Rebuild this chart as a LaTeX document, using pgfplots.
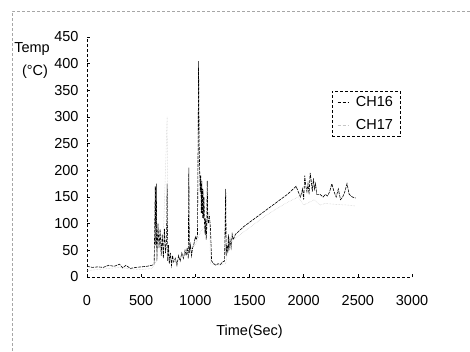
\documentclass[border=0pt]{standalone}
\usepackage{pgfplots}
\pgfplotsset{compat=1.18}
\usepackage{fontspec}
\setmainfont{Liberation Sans}
\begin{document}
\begin{tikzpicture}
\begin{axis}[
  at={(0pt,0pt)}, anchor=south west,
  scale only axis, width=325pt, height=240pt,
  xmin=0, xmax=3000, ymin=0, ymax=450,
  axis x line*=bottom, axis y line*=left,
  axis line style={black, line width=0.5pt, densely dashed},
  xtick={0,500,...,3000}, ytick={0,50,...,450},
  tick align=inside, major tick length=3pt,
  tick style={black, line width=0.4pt, solid},
  /pgf/number format/assume math mode=true,
  /pgf/number format/1000 sep={},
  tick label style={font=\fontsize{14.5}{16}\selectfont},
  xticklabel style={yshift=-15pt},
  yticklabel style={xshift=-5pt},
  xlabel={Time(Sec)},
  xlabel style={font=\fontsize{14.5}{16}\selectfont, yshift=-12pt},
  legend style={at={(axis cs:2262,349)}, anchor=north west,
    draw=black, densely dashed, font=\fontsize{14.5}{16}\selectfont,
    inner xsep=5pt, inner ysep=3pt, row sep=8pt, legend cell align=right,
    /tikz/every odd column/.append style={column sep=5pt}},
  legend image code/.code={\draw[#1, dash pattern=on 3pt off 2pt] (0pt,0pt) -- (11pt,0pt);},
]
\addplot[black, line width=0.6pt, dash pattern=on 3pt off 1pt] coordinates {
(0,20) (50,18) (100,19) (150,18) (200,22) (250,20) (300,24) (330,17) (360,22) (400,16) (450,18) (500,19) (550,20) (600,22) (620,24)
(630,170) (635,60) (640,175) (645,30) (655,100) (665,55) (675,90) (685,40) (695,80) (705,35) (715,90) (725,45) (735,70)
(740,175) (745,30) (752,60) (760,25) (770,45) (780,22) (790,40) (800,28) (815,35) (830,22) (845,40) (860,30) (875,45) (890,35)
(905,50) (915,40) (925,55) (935,35) (940,205) (945,45) (955,60) (965,40) (975,55) (985,60) (1000,75) (1010,70) (1020,80)
(1025,230) (1030,405) (1035,250) (1040,200) (1045,160) (1050,190) (1055,120) (1060,180) (1065,110) (1070,165) (1075,110)
(1080,150) (1085,100) (1090,80) (1095,110) (1100,70) (1105,90) (1110,180) (1115,110) (1120,100) (1130,115) (1140,90)
(1150,30) (1170,25) (1190,22) (1210,25) (1230,23) (1250,28) (1270,30) (1280,165) (1285,40) (1290,60) (1300,45) (1305,80)
(1310,50) (1320,70) (1330,55) (1340,80) (1350,70) (1370,80) (1450,95) (1550,110) (1650,125) (1750,140) (1850,155) (1930,170)
(1950,160) (1970,150) (1990,165) (2000,145) (2010,190) (2020,170) (2030,160) (2040,175) (2050,155) (2060,195) (2070,180)
(2080,160) (2090,185) (2100,165) (2110,175) (2120,155) (2150,155) (2180,150) (2200,155) (2220,152) (2240,160) (2260,175)
(2280,160) (2300,150) (2320,165) (2340,145) (2360,150) (2380,160) (2400,175) (2420,155) (2450,150) (2480,148)
};
\addlegendentry{CH16}
\addplot[gray!45, line width=0.5pt, densely dotted] coordinates {
(0,12) (100,14) (200,16) (300,18) (400,15) (500,14) (600,16) (640,30) (650,60) (700,45) (740,300) (745,40) (780,25)
(850,35) (950,50) (1000,60) (1050,85) (1100,100) (1130,120) (1140,25) (1200,22) (1280,25) (1300,50) (1350,70)
(1450,85) (1550,100) (1650,115) (1750,128) (1850,140) (1950,150) (2000,135) (2050,140) (2100,145) (2150,135)
(2200,138) (2300,136) (2400,135) (2480,133)
};
\addlegendentry{CH17}
\end{axis}
\node[font=\fontsize{14.5}{16}\selectfont] at (-55pt,228pt) {Temp};
\node[font=\fontsize{14.5}{16}\selectfont] at (-52pt,205pt) {(°C)};
\draw[gray!70, densely dashed, line width=0.5pt] (-75pt,-74pt) -- (-75pt,266pt) -- (383pt,266pt);
\pgfresetboundingbox
\path[use as bounding box] (-87pt,-74pt) rectangle (383pt,277pt);
\end{tikzpicture}
\end{document}
